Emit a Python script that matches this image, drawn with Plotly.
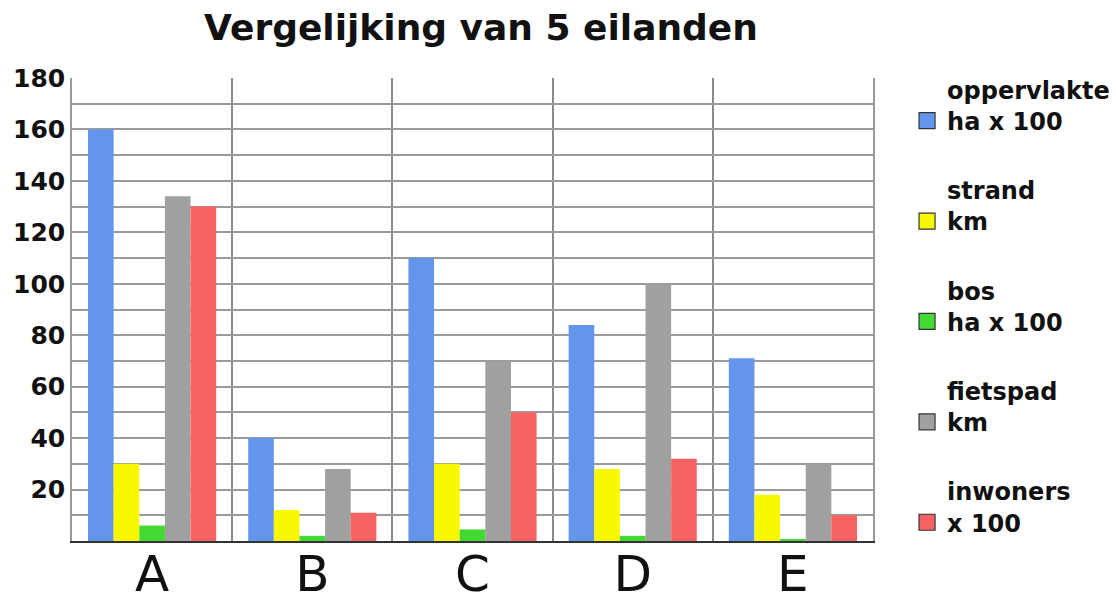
import plotly.graph_objects as go

categories = ["A", "B", "C", "D", "E"]
oppervlakte = [160, 40, 110, 84, 71]
strand = [30, 12, 30, 28, 18]
bos = [6, 2, 4.5, 2, 0.6]
fietspad = [134, 28, 70, 100, 30]
inwoners = [130, 11, 50, 32, 10]

series_names = ["oppervlakte<br>ha x 100", "strand<br>km", "bos<br>ha x 100", "fietspad<br>km", "inwoners<br>x 100"]
series_values = [oppervlakte, strand, bos, fietspad, inwoners]
series_colors = ["#6495ED", "#F8F800", "#44D833", "#A0A0A0", "#F86262"]

y_tickvals = list(range(0, 190, 10))
y_ticktext = [str(v) if (v % 20 == 0 and v > 0) else "" for v in y_tickvals]

FONT = "DejaVu Sans"

fig = go.Figure()
for i, (name, vals, col) in enumerate(zip(series_names, series_values, series_colors)):
    fig.add_trace(go.Bar(
        x=categories, y=vals, name=name, legendgroup=f"g{i}", showlegend=False,
        marker=dict(color=col, line=dict(width=0)),
    ))
    # legend swatch (square with dark outline, as in the reference legend)
    fig.add_trace(go.Scatter(
        x=[None], y=[None], mode="markers", name=name, legendgroup=f"g{i}",
        marker=dict(symbol="square", size=16, color=col, line=dict(width=1.2, color="#333")),
    ))

fig.update_layout(
    width=1116, height=603,
    paper_bgcolor="white", plot_bgcolor="white",
    margin=dict(l=72, r=243, t=78, b=62, autoexpand=False),
    barmode="group", bargap=0.2, bargroupgap=0,
    title=dict(text="<b>Vergelijking van 5 eilanden</b>", x=0.431, xref="container", xanchor="center",
               y=1 - 27 / 603, yanchor="middle",
               font=dict(family=FONT, size=36, color="#111")),
    font=dict(family=FONT, color="#111"),
    legend=dict(x=1.0425, xanchor="left", y=1.023, yanchor="top",
                traceorder="grouped", tracegroupgap=35, valign="bottom",
                maxheight=600,
                font=dict(family=FONT, size=24, weight="bold", color="#111"),
                bgcolor="rgba(0,0,0,0)"),
    showlegend=True,
)
fig.update_xaxes(
    type="category", tickson="boundaries", ticks="", automargin=False,
    showgrid=True, gridcolor="#8a8a8a", gridwidth=1.5,
    showline=True, linecolor="#333", linewidth=2,
    ticklabelstandoff=-12,
    tickfont=dict(family=FONT, size=50, color="#111"),
)
fig.update_yaxes(
    range=[0, 180], tickmode="array", tickvals=y_tickvals, ticktext=y_ticktext,
    automargin=False,
    showgrid=True, gridcolor="#9a9a9a", gridwidth=1.5, zeroline=False,
    showline=True, linecolor="#9a9a9a", linewidth=1.5, mirror=True, ticks="",
    tickfont=dict(family=FONT, size=25, weight="bold", color="#111"),
)

fig.write_html("out.html", config={"displayModeBar": False},
               post_script="document.body.style.margin='0';")
